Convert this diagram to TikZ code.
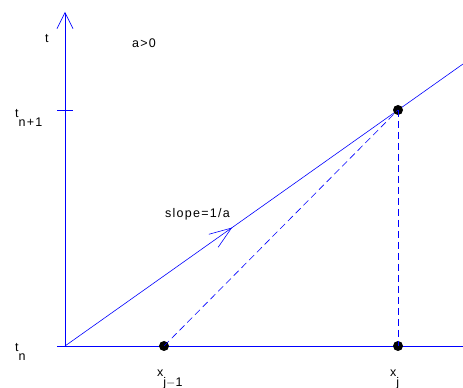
\documentclass[tikz,border=0pt]{standalone}
\usepackage{fontspec}
\setmainfont{Liberation Sans}[LetterSpace=10]
\usetikzlibrary{arrows.meta,decorations.markings}
\newcommand{\lo}[1]{\raisebox{-9pt}{#1}}
\begin{document}
\begin{tikzpicture}[x=1pt,y=1pt,font=\fontsize{12.5}{14}\selectfont]
                \useasboundingbox (0,0) rectangle (463,388);
                \tikzset{ax/.style={blue, semithick},
                         dot/.style={circle, fill=black, inner sep=0pt, minimum size=10pt},
                         lbl/.style={anchor=base west, inner sep=0pt}}
                
                % Osie
                \coordinate (o) at (65,42);
                \coordinate (ttop) at (65,376);
                \coordinate (xl) at (57,42);
                \coordinate (xr) at (463,42);
                \draw[ax, -{Straight Barb[length=16pt,width=16pt]}] (o) -- (ttop);
                \draw[ax] (xl) -- (xr);
                \draw[ax] (57,278) -- (73,278);
                
                % Charakterystyka
                \coordinate (lend) at (463,324);
                \draw[ax, decoration={markings, mark=at position 0.42 with
                      {\arrow{Straight Barb[length=22pt,width=16pt]}}}, postaction={decorate}]
                    (o) -- (lend);
                
                % Punkty siatki
                \node[dot] (xjm) at (164,42) {};
                \node[dot] (xj) at (398,42) {};
                \node[dot] (tj) at (398,278) {};
                \draw[ax, dash pattern=on 7pt off 4pt] (xjm.center) -- (tj.center);
                \draw[ax, dash pattern=on 7pt off 4pt] (tj.center) -- (xj.center);
                
                % Opisy
                \node[lbl] (lt) at (45,345) {t};
                \node[lbl] (la) at (132,340) {a>0};
                \node[lbl] (ltn1) at (15,270) {t\lo{n+1}};
                \node[lbl] (ltn) at (15,36) {t\lo{n}};
                \node[lbl] (lxjm) at (157,11) {x\lo{j$-$1}};
                \node[lbl] (lxj) at (390,11) {x\lo{j}};
                \node[lbl] (ls) at (165,170) {slope=1/a};
            \end{tikzpicture}
\end{document}
